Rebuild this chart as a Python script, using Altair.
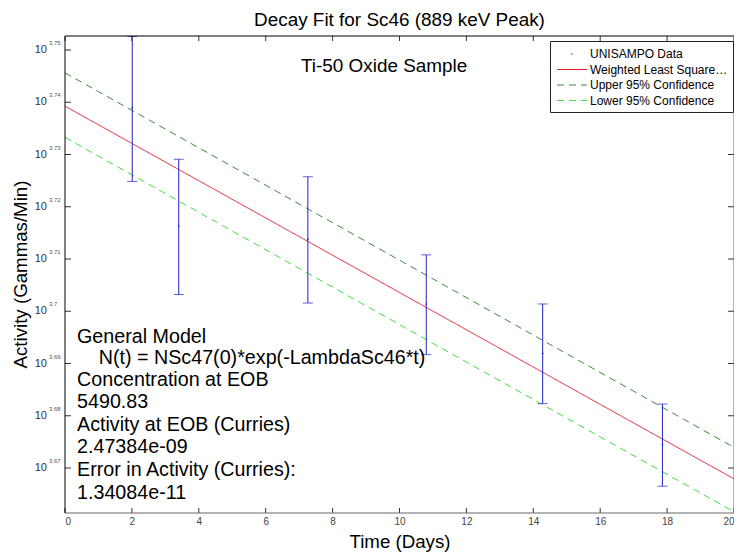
import altair as alt
import pandas as pd

W, H = 669, 477
FONT = "Liberation Sans"

TITLE = "Decay Fit for Sc46 (889 keV Peak)"
X_TITLE = "Time (Days)"
Y_TITLE = "Activity (Gammas/Min)"

SERIES = ["UNISAMPO Data", "Weighted Least Squares Fit",
          "Upper 95% Confidence", "Lower 95% Confidence"]
SERIES_COLORS = ["#2222cc", "#e0202c", "#3a8a3a", "#3ee03e"]
SERIES_DASHES = [[0, 14, 1.5, 100], [1, 0], [7, 5], [7, 5]]
BLUE = "#2222cc"

# measured points (days, gammas/min, error)
DATA_T = [2.01, 3.40, 7.26, 10.80, 14.28, 17.86]
DATA_N = [5482, 5204, 5174, 5027.5, 4920, 4725.5]
DATA_ERR = [175, 155, 144, 110.5, 108, 85.5]

# fit and confidence lines (straight on log axis)
LINE_T = [0, 20]
FIT_N = [5486, 4655]
UPPER_N = [5567, 4720]
LOWER_N = [5411, 4588]

X_TICKS = [0, 2, 4, 6, 8, 10, 12, 14, 16, 18, 20]
Y_TICK_EXP = [3.67, 3.68, 3.69, 3.70, 3.71, 3.72, 3.73, 3.74, 3.75]
Y_LIMIT_EXP = [3.66139, 3.75268]

NOTE_TEXT = ["Ti-50 Oxide Sample"]
NOTE_T = [9.54]
NOTE_EXP = [3.7469]

MODEL_TEXT = ["General Model",
              "N(t) = NSc47(0)*exp(-LambdaSc46*t)",
              "Concentration at EOB",
              "5490.83",
              "Activity at EOB (Curries)",
              "2.47384e-09",
              "Error in Activity (Curries):",
              "1.34084e-11"]
MODEL_T = [0.36, 1.01, 0.36, 0.36, 0.36, 0.36, 0.36, 0.36]
MODEL_EXP = [3.69513, 3.69099, 3.68684, 3.68254, 3.67823, 3.67402, 3.66962, 3.66522]

# ---------- tables ----------
lines_df = pd.DataFrame({
    "series": [SERIES[1]] * 2 + [SERIES[2]] * 2 + [SERIES[3]] * 2,
    "t": LINE_T * 3,
    "N": FIT_N + UPPER_N + LOWER_N,
})
pts_df = pd.DataFrame({"t": DATA_T, "N": DATA_N, "err": DATA_ERR})
pts_df["lo"] = pts_df["N"] - pts_df["err"]
pts_df["hi"] = pts_df["N"] + pts_df["err"]
xt_df = pd.DataFrame({"t": X_TICKS})
yt_df = pd.DataFrame({"e": Y_TICK_EXP})
yt_df["N"] = 10 ** yt_df["e"]
yt_df["base"] = "10"
yt_df["exp"] = [f"{e:g}" for e in Y_TICK_EXP]
note_df = pd.DataFrame({"text": NOTE_TEXT, "t": NOTE_T, "N": [10 ** e for e in NOTE_EXP]})
model_df = pd.DataFrame({"text": MODEL_TEXT, "t": MODEL_T, "N": [10 ** e for e in MODEL_EXP]})
one = pd.DataFrame({"a": [0]})

X_SCALE = alt.Scale(domain=[0, 20], nice=False, zero=False)
Y_SCALE = alt.Scale(type="log", domain=[10 ** Y_LIMIT_EXP[0], 10 ** Y_LIMIT_EXP[1]], nice=False)

X_AXIS = alt.Axis(
    values=X_TICKS, ticks=False, domain=False, grid=False,
    labelFont=FONT, labelFontSize=10, labelColor="#444", labelPadding=3,
    title=X_TITLE, titleFont=FONT, titleFontSize=18.7, titleFontWeight="normal",
    titleColor="black", titleY=34, titleBaseline="alphabetic")
Y_AXIS = alt.Axis(
    values=[10 ** e for e in Y_TICK_EXP], labels=False, ticks=False,
    domain=False, grid=False,
    title=Y_TITLE, titleFont=FONT, titleFontSize=18.7, titleFontWeight="normal",
    titleColor="black", titleX=-39, titleY=238, titleAngle=270,
    titleAlign="center", titleBaseline="alphabetic")

xe = alt.X("t:Q", scale=X_SCALE, axis=X_AXIS)
ye = alt.Y("N:Q", scale=Y_SCALE, axis=Y_AXIS)

legend = alt.Legend(
    title=None, orient="none", legendX=485, legendY=5,
    fillColor="white", strokeColor="#222", padding=5,
    symbolType="M-2,0L2,0", symbolSize=225, symbolStrokeWidth=1,
    symbolOffset=9, labelOffset=10,
    labelFont=FONT, labelFontSize=12, labelColor="black", rowPadding=1.5,
    labelLimit=139,
)

lines = alt.Chart(lines_df).mark_line(strokeWidth=1).encode(
    x=xe, y=ye,
    color=alt.Color("series:N", scale=alt.Scale(domain=SERIES, range=SERIES_COLORS), legend=legend),
    strokeDash=alt.StrokeDash("series:N", scale=alt.Scale(domain=SERIES, range=SERIES_DASHES), legend=legend),
    detail="series:N",
)

bars = alt.Chart(pts_df).mark_rule(color=BLUE, strokeWidth=1, clip=True).encode(
    x=xe, y=alt.Y("lo:Q", scale=Y_SCALE, axis=Y_AXIS), y2="hi:Q")
cap_lo = alt.Chart(pts_df).mark_tick(orient="horizontal", size=10, thickness=1, color=BLUE, clip=True).encode(
    x=xe, y=alt.Y("lo:Q", scale=Y_SCALE, axis=Y_AXIS))
cap_hi = alt.Chart(pts_df).mark_tick(orient="horizontal", size=10, thickness=1, color=BLUE, clip=True).encode(
    x=xe, y=alt.Y("hi:Q", scale=Y_SCALE, axis=Y_AXIS))
dots = alt.Chart(pts_df).mark_circle(size=3, color=BLUE, opacity=1).encode(x=xe, y=ye)

note = alt.Chart(note_df).mark_text(font=FONT, fontSize=18.9, align="center", baseline="middle", color="black").encode(
    x=xe, y=ye, text="text:N")
model = alt.Chart(model_df).mark_text(font=FONT, fontSize=19.7, align="left", baseline="middle", color="black").encode(
    x=xe, y=ye, text="text:N")

# inward ticks on all four sides
TICK_C = "#333"
xt_bot = alt.Chart(xt_df).mark_rule(color=TICK_C).encode(x=xe, y=alt.value(H), y2=alt.value(H - 5))
xt_top = alt.Chart(xt_df).mark_rule(color=TICK_C).encode(x=xe, y=alt.value(0), y2=alt.value(5))
yt_left = alt.Chart(yt_df).mark_rule(color=TICK_C).encode(y=ye, x=alt.value(0), x2=alt.value(6))
yt_right = alt.Chart(yt_df).mark_rule(color=TICK_C).encode(y=ye, x=alt.value(W), x2=alt.value(W - 6))
ylab_base = alt.Chart(yt_df).mark_text(font=FONT, fontSize=11, align="right", baseline="middle", color="#333").encode(
    y=ye, x=alt.value(-18), text="base:N")
ylab_exp = alt.Chart(yt_df).mark_text(font=FONT, fontSize=6, align="left", baseline="middle", dy=-7, color="#555").encode(
    y=ye, x=alt.value(-16), text="exp:N")

# frame
f_top = alt.Chart(one).mark_rule(color="black").encode(x=alt.value(0), x2=alt.value(W), y=alt.value(0))
f_left = alt.Chart(one).mark_rule(color="black").encode(y=alt.value(0), y2=alt.value(H), x=alt.value(0))
f_bot = alt.Chart(one).mark_rule(color="#666").encode(x=alt.value(0), x2=alt.value(W), y=alt.value(H))
f_right = alt.Chart(one).mark_rule(color="#666").encode(y=alt.value(0), y2=alt.value(H), x=alt.value(W))

chart = alt.layer(
    lines, bars, cap_lo, cap_hi, dots, note, model,
    xt_bot, xt_top, yt_left, yt_right, ylab_base, ylab_exp,
    f_top, f_left, f_bot, f_right,
).properties(
    width=W, height=H,
    title=alt.TitleParams(text=TITLE, font=FONT, fontSize=18.9, fontWeight="normal",
                          anchor="middle", offset=6, color="black"),
    autosize=alt.AutoSizeParams(type="none"),
    padding={"left": 57, "top": 28, "right": 0, "bottom": 39},
    background="white",
).configure_view(strokeWidth=0)

chart.save("out.html", embed_options={"renderer": "svg", "actions": False})
